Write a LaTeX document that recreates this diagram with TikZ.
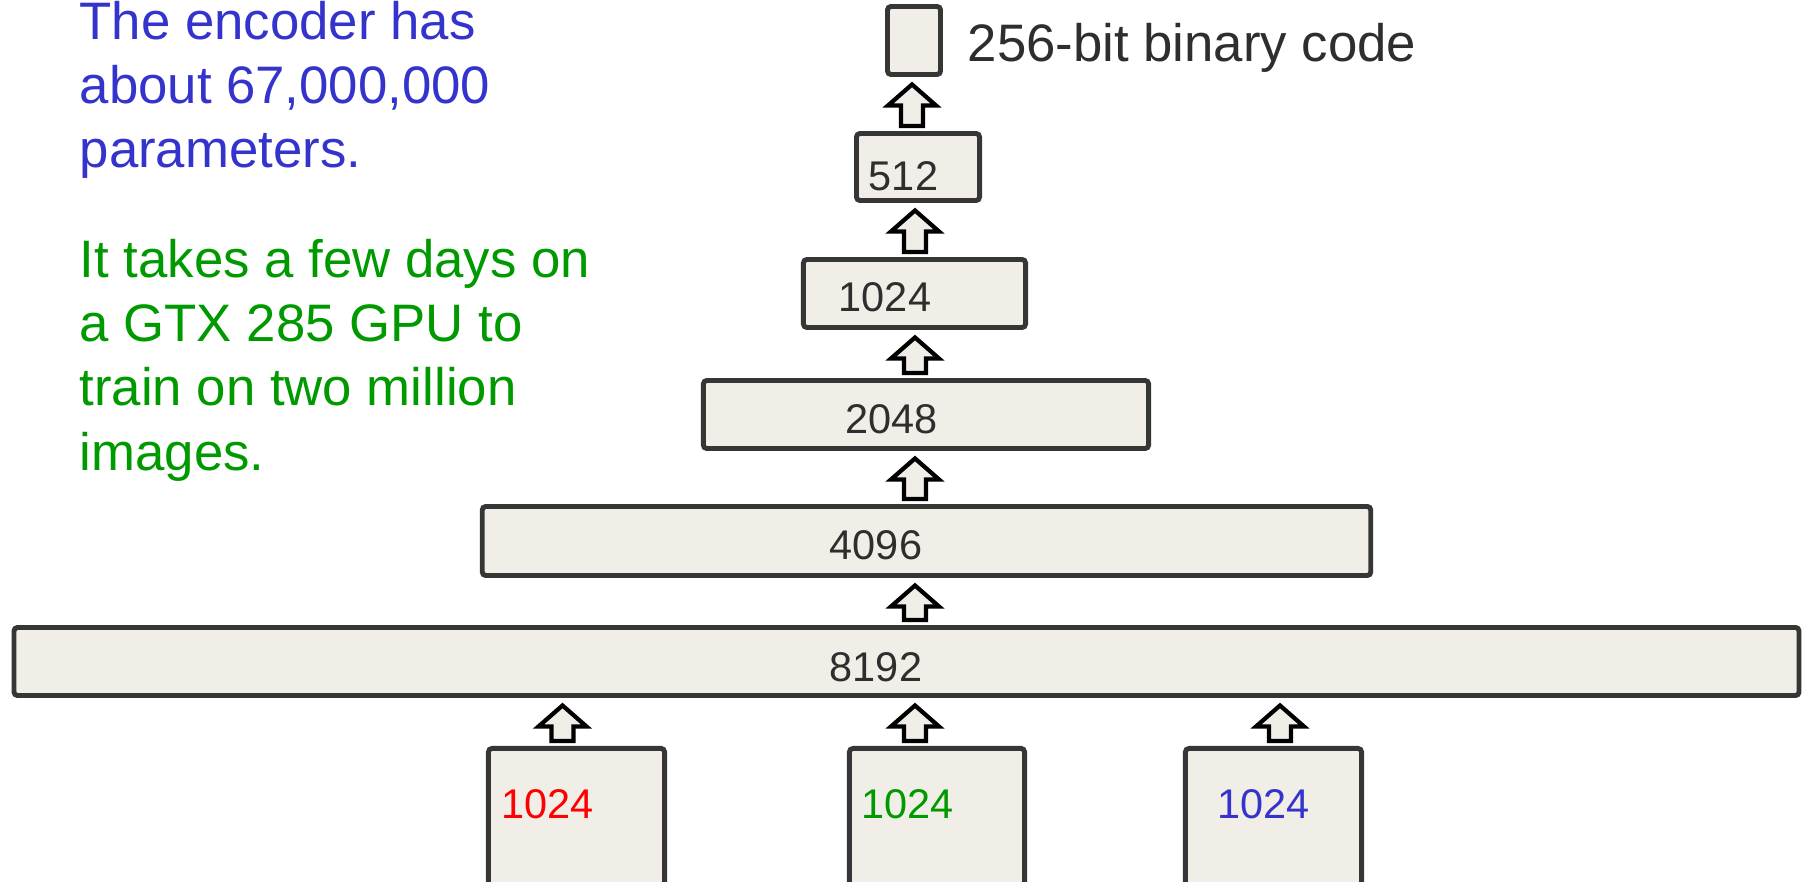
\documentclass[tikz,border=0pt]{standalone}
\usepackage{fontspec}
\setmainfont{Liberation Sans}
\usepackage{xcolor}
\usetikzlibrary{calc}
\definecolor{layerfill}{HTML}{F1EEE7}
\definecolor{layerline}{HTML}{363636}
\definecolor{labelgrey}{HTML}{2E2E2E}
\definecolor{noteblue}{HTML}{3434CC}
\definecolor{notegreen}{HTML}{009900}
\definecolor{inred}{HTML}{FF0000}
\tikzset{
    layerbox/.style={
        rectangle,
        rounded corners=1pt,
        draw=layerline,
        line width=1.4pt,
        fill=layerfill,
        inner sep=0pt
    },
    numlabel/.style={
        anchor=base,
        inner sep=0pt,
        text=labelgrey,
        font=\fontsize{11.8}{14}\selectfont
    },
    notetext/.style={
        anchor=base west,
        align=left,
        inner sep=0pt,
        font=\fontsize{15}{18.2}\selectfont
    },
    blockarrow/.style={
        draw=black,
        line width=1.2pt,
        line join=miter,
        fill=layerfill
    }
}
% hollow up arrow from the top of #2 to the bottom of #3, on the column #1
\newcommand{\uparrowconn}[3]{%
    \draw[blockarrow] let \p1=(#1 |- #2.north), \p2=(#1 |- #3.south) in
        (\x1-0.11cm,\y1+0.05cm) -- (\x1-0.11cm,\y2-0.285cm) -- (\x1-0.24cm,\y2-0.285cm)
        -- (\x1,\y2-0.075cm) -- (\x1+0.24cm,\y2-0.285cm) -- (\x1+0.11cm,\y2-0.285cm)
        -- (\x1+0.11cm,\y1+0.05cm) -- cycle;}

\begin{document}
\begin{tikzpicture}[x=0.01cm, y=-0.01cm]
    \useasboundingbox (0,0) rectangle (1805,882);
    \clip (0,0) rectangle (1805,882);

    % columns of the arrows
    \coordinate (coltop) at (912,0);
    \coordinate (colmid) at (915,0);
    \coordinate (colred) at (562.5,0);
    \coordinate (colblue) at (1280,0);

    % layers
    \node[layerbox, minimum width=0.53cm, minimum height=0.68cm] (code) at (914,40.5) {};
    \node[layerbox, minimum width=1.23cm, minimum height=0.67cm] (h512) at (918,167) {};
    \node[layerbox, minimum width=2.22cm, minimum height=0.68cm] (h1024) at (914.5,293.5) {};
    \node[layerbox, minimum width=4.45cm, minimum height=0.68cm] (h2048) at (926,414.5) {};
    \node[layerbox, minimum width=8.88cm, minimum height=0.69cm] (h4096) at (926.5,541) {};
    \node[layerbox, minimum width=17.84cm, minimum height=0.68cm] (h8192) at (906.5,661.5) {};
    \node[layerbox, minimum width=1.76cm, minimum height=1.70cm] (inred) at (576.5,833.5) {};
    \node[layerbox, minimum width=1.75cm, minimum height=1.70cm] (ingreen) at (937,833.5) {};
    \node[layerbox, minimum width=1.76cm, minimum height=1.70cm] (inblue) at (1273.5,833.5) {};

    % labels
    \node[anchor=base west, inner sep=0pt, text=labelgrey, font=\fontsize{15}{18}\selectfont] (codelab) at (967,62) {256-bit binary code};
    \node[numlabel] (lab512) at (903.5,191) {512};
    \node[numlabel] (lab1024) at (885,312) {1024};
    \node[numlabel] (lab2048) at (891.5,433) {2048};
    \node[numlabel] (lab4096) at (876,559) {4096};
    \node[numlabel] (lab8192) at (876,681) {8192};
    \node[numlabel, text=inred] (labred) at (547.5,818) {1024};
    \node[numlabel, text=notegreen] (labgreen) at (907.5,818) {1024};
    \node[numlabel, text=noteblue] (labblue) at (1263.5,818) {1024};

    % notes, placed by the baseline of their last line
    \node[notetext, text=noteblue] (encnote) at (79,168) {The encoder has\\about 67,000,000\\parameters.};
    \node[notetext, text=notegreen] (gpunote) at (79,470) {It takes a few days on\\a GTX 285 GPU to\\train on two million\\images.};

    % arrows
    \uparrowconn{coltop}{h512}{code}
    \uparrowconn{colmid}{h1024}{h512}
    \uparrowconn{colmid}{h2048}{h1024}
    \uparrowconn{colmid}{h4096}{h2048}
    \uparrowconn{colmid}{h8192}{h4096}
    \uparrowconn{colred}{inred}{h8192}
    \uparrowconn{colmid}{ingreen}{h8192}
    \uparrowconn{colblue}{inblue}{h8192}
\end{tikzpicture}
\end{document}
